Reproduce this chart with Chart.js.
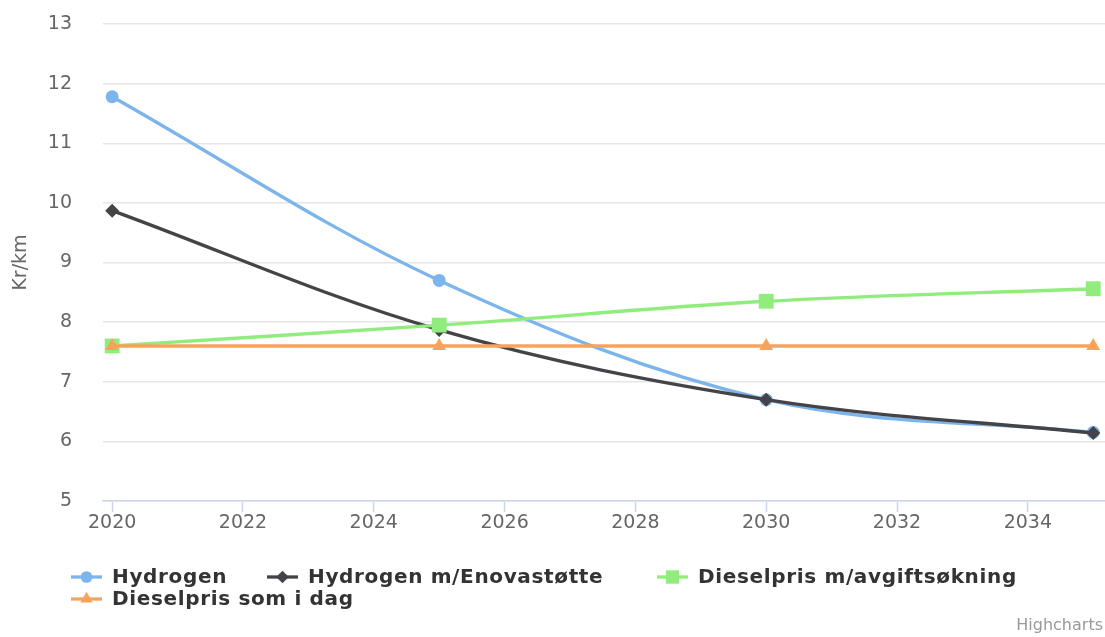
<!DOCTYPE html>
<html>
<head>
<meta charset="utf-8">
<script src="https://cdn.jsdelivr.net/npm/chart.js@4/dist/chart.umd.min.js"></script>
<style>
  html, body { margin: 0; padding: 0; background: #ffffff; }
  #wrap { width: 1105px; height: 637px; position: relative; }
</style>
</head>
<body>
<div id="wrap"><canvas id="c" width="1105" height="637"></canvas></div>
<script>
// Cost per km (Kr/km) for hydrogen and diesel trucks, 2020–2035
const years = [2020, 2025, 2030, 2035];
const hydrogen = [11.78, 8.70, 6.70, 6.15];
const hydrogenEnova = [9.87, 7.87, 6.70, 6.14];
const dieselTax = [7.60, 7.95, 8.35, 8.56];
const dieselToday = [7.60, 7.60, 7.60, 7.60];

const seriesNames = ['Hydrogen', 'Hydrogen m/Enovastøtte', 'Dieselpris m/avgiftsøkning', 'Dieselpris som i dag'];
const xTickYears = [2020, 2022, 2024, 2026, 2028, 2030, 2032, 2034];
const yTicks = [5, 6, 7, 8, 9, 10, 11, 12, 13];
const yTitle = 'Kr/km';
const creditText = 'Highcharts';

const colors = ['#7cb5ec', '#434348', '#90ed7d', '#f7a35c'];
const markers = ['circle', 'rectRot', 'rect', 'triangle'];
const markerRadius = [6.5, 7, 10.5, 8];

const toPoints = arr => years.map((y, i) => ({ x: y, y: arr[i] }));
const seriesValues = [hydrogen, hydrogenEnova, dieselTax, dieselToday];

const datasets = seriesValues.map((vals, i) => ({
  label: seriesNames[i],
  data: toPoints(vals),
  borderColor: colors[i],
  backgroundColor: colors[i],
  borderWidth: 3.3,
  tension: 0.35,
  pointStyle: markers[i],
  pointRadius: markerRadius[i],
  pointBorderWidth: 0,
  pointBackgroundColor: colors[i],
  order: seriesValues.length - i,
  clip: false
}));

// Legend drawn as line + marker symbols, wrapped in two rows
const legendSlots = [
  { x: 71, y: 577 },
  { x: 267, y: 577 },
  { x: 657, y: 577 },
  { x: 71, y: 599 }
];

const legendAndCredits = {
  id: 'legendAndCredits',
  afterDraw(chart) {
    const ctx = chart.ctx;
    ctx.save();
    chart.data.datasets.forEach((ds, i) => {
      const s = legendSlots[i];
      ctx.strokeStyle = ds.borderColor;
      ctx.lineWidth = 3.3;
      ctx.beginPath();
      ctx.moveTo(s.x, s.y);
      ctx.lineTo(s.x + 31, s.y);
      ctx.stroke();
      ctx.fillStyle = ds.borderColor;
      Chart.helpers.drawPoint(ctx, {
        pointStyle: ds.pointStyle,
        rotation: 0,
        borderWidth: 0,
        radius: ds.pointRadius * 0.9
      }, s.x + 15.5, s.y);
      ctx.fillStyle = '#333333';
      ctx.font = 'bold 20px "DejaVu Sans"';
      if ('letterSpacing' in ctx) ctx.letterSpacing = '0.65px';
      ctx.textAlign = 'left';
      ctx.textBaseline = 'middle';
      ctx.fillText(ds.label, s.x + 41, s.y + 1);
      if ('letterSpacing' in ctx) ctx.letterSpacing = '0px';
    });
    ctx.fillStyle = '#999999';
    ctx.font = '16px "DejaVu Sans"';
    ctx.textAlign = 'right';
    ctx.textBaseline = 'alphabetic';
    ctx.fillText(creditText, 1103, 630);
    ctx.restore();
  }
};

new Chart(document.getElementById('c'), {
  type: 'line',
  data: { datasets },
  plugins: [legendAndCredits],
  options: {
    responsive: false,
    animation: false,
    layout: { autoPadding: false, padding: { top: 24, right: 0, bottom: 90, left: 0 } },
    plugins: {
      legend: { display: false },
      tooltip: { enabled: false },
      title: { display: false }
    },
    scales: {
      x: {
        type: 'linear',
        min: 2019.86,
        max: 2035.18,
        afterBuildTicks(scale) {
          scale.ticks = xTickYears.map(v => ({ value: v }));
        },
        afterFit(scale) {
          scale.height = 637 - 501 - 90;
          scale.paddingLeft = 0;
          scale.paddingRight = 0;
        },
        ticks: {
          color: '#666666',
          font: { family: 'DejaVu Sans', size: 19 },
          padding: 0,
          maxRotation: 0,
          autoSkip: false,
          callback: v => String(v)
        },
        grid: {
          display: true,
          drawOnChartArea: false,
          drawTicks: true,
          tickLength: 11,
          tickWidth: 1.5,
          color: '#ccd6eb'
        },
        border: { display: true, color: '#ccd6eb', width: 1.5 }
      },
      y: {
        min: 5,
        max: 13,
        afterBuildTicks(scale) {
          scale.ticks = yTicks.map(v => ({ value: v }));
        },
        afterFit(scale) {
          scale.width = 103;
          scale.paddingTop = 0;
          scale.paddingBottom = 0;
        },
        ticks: {
          color: '#666666',
          font: { family: 'DejaVu Sans', size: 19 },
          padding: 0
        },
        grid: {
          color: '#e6e6e6',
          lineWidth: 1.5,
          drawTicks: true,
          tickLength: 31,
          tickColor: 'rgba(0,0,0,0)'
        },
        border: { display: false },
        title: {
          display: true,
          text: yTitle,
          color: '#666666',
          font: { family: 'DejaVu Sans', size: 19 },
          padding: { top: 10, bottom: 0 }
        }
      }
    }
  }
});
</script>
</body>
</html>
